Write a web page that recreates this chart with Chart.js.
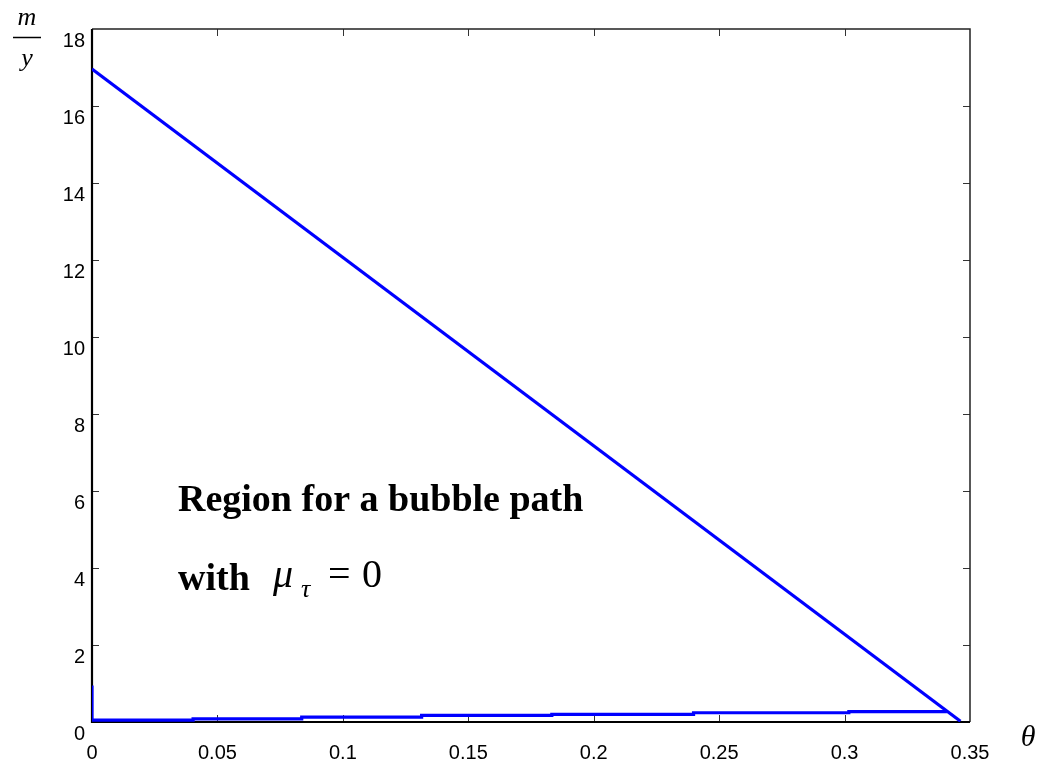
<!DOCTYPE html>
<html>
<head>
<meta charset="utf-8">
<script src="https://cdn.jsdelivr.net/npm/chart.js@4"></script>
<style>
  html, body { margin: 0; padding: 0; background: #ffffff; }
  #wrap { width: 1043px; height: 769px; }
</style>
</head>
<body>
<div id="wrap"><canvas id="c" width="1043" height="769"></canvas></div>
<script>
// Upper boundary: straight line from the m/y intercept down to the theta axis
const upperTheta = [0, 0.3462];
const upperMy = [16.96, 0.02];

// Lower boundary: short spike at theta = 0, then a slowly rising staircase
const lowerTheta = [0, 0, 0.0403, 0.0836, 0.1314, 0.1833, 0.2398, 0.3017, 0.3408];
const lowerMy = [0.95, 0.05, 0.083, 0.125, 0.17, 0.20, 0.24, 0.27, 0.27];

// Axis ticks
const xTicks = [0, 0.05, 0.1, 0.15, 0.2, 0.25, 0.3, 0.35];
const xTickLabels = ['0', '0.05', '0.1', '0.15', '0.2', '0.25', '0.3', '0.35'];
const yTicks = [0, 2, 4, 6, 8, 10, 12, 14, 16, 18];
const yTickLabels = ['0', '2', '4', '6', '8', '10', '12', '14', '16', '18'];

const toPoints = (xs, ys) => xs.map((x, i) => ({ x: x, y: ys[i] }));

const LINE_BLUE = '#0000ff';
const TICK_FONT = { family: '"Liberation Sans", Arial, sans-serif', size: 20 };

// Frame around the plot area with inward tick marks on all four sides
const framePlugin = {
  id: 'frame',
  beforeDatasetsDraw(chart) {
    const { ctx, chartArea: a, scales } = chart;
    const len = 7;
    ctx.save();
    ctx.strokeStyle = '#333333';
    ctx.lineWidth = 1;
    ctx.beginPath();
    scales.x.ticks.forEach(t => {
      const px = Math.round(scales.x.getPixelForValue(t.value)) + 0.5;
      if (px <= a.left + 1 || px >= a.right - 1) return;
      ctx.moveTo(px, a.bottom); ctx.lineTo(px, a.bottom - len);
      ctx.moveTo(px, a.top); ctx.lineTo(px, a.top + len);
    });
    scales.y.ticks.forEach(t => {
      const py = Math.round(scales.y.getPixelForValue(t.value)) + 0.5;
      if (py <= a.top + 1 || py >= a.bottom - 1) return;
      ctx.moveTo(a.left, py); ctx.lineTo(a.left + len, py);
      ctx.moveTo(a.right, py); ctx.lineTo(a.right - len, py);
    });
    ctx.stroke();

    // top and right edges: thinner
    ctx.strokeStyle = '#222222';
    ctx.lineWidth = 1.5;
    ctx.beginPath();
    ctx.moveTo(a.left, a.top); ctx.lineTo(a.right, a.top); ctx.lineTo(a.right, a.bottom);
    ctx.stroke();
    // left and bottom axes: heavier
    ctx.strokeStyle = '#000000';
    ctx.lineWidth = 2.2;
    ctx.beginPath();
    ctx.moveTo(a.left, a.top); ctx.lineTo(a.left, a.bottom); ctx.lineTo(a.right, a.bottom);
    ctx.stroke();
    ctx.restore();
  }
};

// Axis titles and the region annotation
const labelPlugin = {
  id: 'labels',
  afterDraw(chart) {
    const { ctx } = chart;
    const serif = '"Liberation Serif", "Times New Roman", serif';
    ctx.save();
    ctx.fillStyle = '#000000';
    ctx.textBaseline = 'alphabetic';

    // m / y fraction at the top of the vertical axis
    ctx.font = 'italic 26px ' + serif;
    ctx.textAlign = 'center';
    ctx.fillText('m', 27, 25);
    ctx.fillText('y', 27, 66);
    ctx.strokeStyle = '#000000';
    ctx.lineWidth = 1.5;
    ctx.beginPath();
    ctx.moveTo(13, 37.5); ctx.lineTo(41, 37.5);
    ctx.stroke();

    // theta at the end of the horizontal axis
    ctx.font = 'italic 30px ' + serif;
    ctx.fillText('\u03B8', 1028, 746);

    // region annotation
    ctx.textAlign = 'left';
    ctx.font = 'bold 38px ' + serif;
    ctx.fillText('Region for a bubble path', 178, 511);
    ctx.fillText('with', 178, 590);
    ctx.font = 'italic 40px ' + serif;
    ctx.fillText('\u03BC', 273, 587);
    ctx.font = 'italic 26px ' + serif;
    ctx.fillText('\u03C4', 301, 597);
    ctx.font = '40px ' + serif;
    ctx.fillText('=', 328, 587);
    ctx.fillText('0', 362, 587);
    ctx.restore();
  }
};

new Chart(document.getElementById('c'), {
  type: 'scatter',
  data: {
    datasets: [
      {
        data: toPoints(upperTheta, upperMy),
        showLine: true,
        borderColor: LINE_BLUE,
        borderWidth: 3.2,
        pointRadius: 0,
        tension: 0
      },
      {
        data: toPoints(lowerTheta, lowerMy),
        showLine: true,
        stepped: 'before',
        borderColor: LINE_BLUE,
        borderWidth: 3.2,
        pointRadius: 0
      }
    ]
  },
  options: {
    responsive: false,
    animation: false,
    layout: { padding: { left: 0, right: 73, top: 29, bottom: 0 } },
    plugins: { legend: { display: false }, tooltip: { enabled: false } },
    scales: {
      x: {
        type: 'linear',
        position: 'bottom',
        min: 0,
        max: 0.35,
        grid: { display: false, drawTicks: false },
        border: { display: false },
        afterBuildTicks: s => { s.ticks = xTicks.map(v => ({ value: v })); },
        afterFit: s => { s.height = 47; },
        ticks: {
          color: '#000000',
          font: TICK_FONT,
          padding: 19,
          maxRotation: 0,
          autoSkip: false,
          callback: (v, i) => xTickLabels[i]
        }
      },
      y: {
        type: 'linear',
        position: 'left',
        min: 0,
        max: 18,
        grid: { display: false, drawTicks: false },
        border: { display: false },
        afterBuildTicks: s => { s.ticks = yTicks.map(v => ({ value: v })); },
        afterFit: s => { s.width = 92; },
        ticks: {
          color: '#000000',
          font: TICK_FONT,
          padding: 7,
          labelOffset: 12,
          autoSkip: false,
          callback: (v, i) => yTickLabels[i]
        }
      }
    }
  },
  plugins: [framePlugin, labelPlugin]
});
</script>
</body>
</html>
